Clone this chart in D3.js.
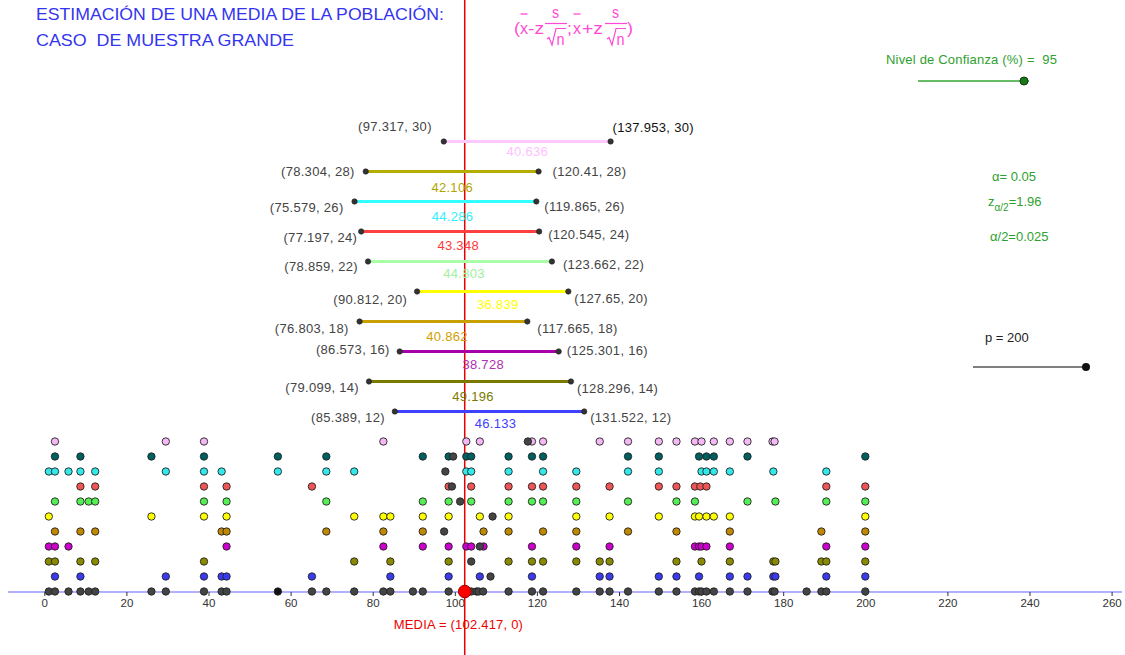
<!DOCTYPE html>
<html><head><meta charset="utf-8">
<script src="https://cdn.jsdelivr.net/npm/d3@7"></script>
<style>
body{margin:0;background:#fff}
svg{display:block}
text{font-family:"Liberation Sans",Arial,Helvetica,sans-serif}
</style>
</head><body>
<svg id="chart" width="1125" height="655"></svg>
<script>
// ---------------- DATA ----------------
const xTicks = [0, 20, 40, 60, 80, 100, 120, 140, 160, 180, 200, 220, 240, 260];
const meanValue = 102.417;

const intervalLevels = [30, 28, 26, 24, 22, 20, 18, 16, 14, 12];
const lowerBounds = [97.317, 78.304, 75.579, 77.197, 78.859, 90.812, 76.803, 86.573, 79.099, 85.389];
const upperBounds = [137.953, 120.41, 119.865, 120.545, 123.662, 127.65, 117.665, 125.301, 128.296, 131.522];
const intervalWidths = [40.636, 42.106, 44.286, 43.348, 44.803, 36.839, 40.862, 38.728, 49.196, 46.133];

const population = [1.1, 2.6, 5.9, 8.8, 10.8, 12.4, 26.1, 29.6, 38.9, 43.2, 44.4, 65.2, 68.7, 75.5, 82.6, 84.3, 89.8, 92.2, 98.5, 102.8, 104, 105.3, 105.8, 106.9, 113.1, 118.8, 121.5, 129.6, 135.3, 137.7, 142.2, 149.7, 154, 158.5, 159.5, 160.1, 161.3, 163.1, 167, 171.3, 177.4, 177.9, 185.7, 189.3, 190.5, 200];
const highlightedPoint = 56.9;

const sample1 = [2.6, 8.8, 29.6, 38.9, 43.2, 44.4, 65.2, 84.3, 98.5, 106.1, 118.8, 135.3, 137.7, 149.7, 154, 159.5, 167, 171.3, 177.6, 178.1, 190.5, 200];
const sample2 = [1.1, 2.6, 8.8, 12.4, 38.9, 75.5, 84.3, 98.5, 113.1, 118.8, 121.5, 129.6, 135.3, 137.7, 154, 160.1, 167, 177.6, 178.1, 189.3, 190.5, 200];
const sample3 = [1.1, 2.6, 5.9, 44.4, 82.6, 92.2, 98.5, 102.8, 104, 107, 118.8, 129.6, 137.7, 158.5, 159.5, 160.1, 161.3, 167, 190.5, 200];
const sample4 = [2.6, 8.8, 12.4, 43.2, 44.4, 68.7, 82.6, 92.2, 107, 113.1, 121.5, 129.6, 142.2, 154, 167, 189.3, 200];
const sample5 = [1.1, 26.1, 38.9, 44.4, 75.5, 82.6, 84.3, 92.2, 98.5, 106.1, 113.1, 129.6, 137.7, 149.7, 158.5, 159.5, 161.3, 163.1, 167, 200];
const sample6 = [2.6, 8.8, 10.8, 12.4, 38.9, 44.4, 68.7, 92.2, 98.5, 104, 113.1, 118.8, 121.5, 129.6, 142.2, 154, 158.5, 171.3, 178.1, 190.5, 200];
const sample7 = [8.8, 12.4, 38.9, 44.4, 65.2, 98.5, 104, 113.1, 118.8, 121.5, 129.6, 137.7, 149.7, 154, 158.5, 159.8, 161.3, 190.5, 200];
const sample8 = [1.1, 2.6, 5.9, 8.8, 12.4, 29.6, 38.9, 43.2, 56.9, 68.7, 75.5, 102.8, 104, 113.1, 121.5, 129.6, 142.2, 149.7, 160.1, 161.3, 163.1, 167, 177.6, 190.5];
const sample9 = [2.6, 8.8, 26.1, 38.9, 56.9, 68.7, 92.2, 98.5, 102.8, 104, 113.1, 118.8, 121.5, 142.2, 149.7, 159.5, 161.3, 163.1, 171.3, 200];
const sample10 = [2.6, 29.6, 38.9, 82.6, 102.8, 106.1, 118.8, 121.5, 135.3, 142.2, 149.7, 154, 158.5, 160.1, 163.1, 167, 171.3, 177.4, 177.9];
// dark points shown inside the sample rows: [row, value]
const strayRows = [10, 9, 8, 7, 6, 5, 4, 3, 2, 1];
const strayValues = [117.8, 99.6, 97.7, 99.3, 101.3, 109.2, 97.4, 106.1, 104, 108.7];

const confidenceLevel = 95;
const alphaValue = 0.05;
const zHalf = 1.96;
const alphaHalf = 0.025;
const pValue = 200;

// ---------------- STYLE / LAYOUT ----------------
const intervalColors = ["#ffc8ff", "#b5ad00", "#33ffff", "#ff4040", "#a8ffa8", "#ffff00", "#c8a000", "#a800a8", "#7a7a00", "#4040ff"];
const widthLabelColors = ["#ffc0ff", "#b0a400", "#30f0ff", "#ff3838", "#a0f0a0", "#ffff00", "#d0a000", "#b030b0", "#7a7a00", "#4040ff"];
const sampleColors = ["#3a3aee", "#8a8a00", "#cc00cc", "#c08800", "#ffff00", "#55ee55", "#ee5555", "#33e8e8", "#006060", "#f4b8f4"];
// label nudges [leftDx, leftDy, rightDx, rightDy, widthDx, widthDy]
const labelNudge = [
  [-12,-15, 2,-14, 0,10], [-11,0,14,0,0,16], [-11,6,8,5,7,15], [-4,6,9,3,8,14], [-10,5,11,3,4,12],
  [-10,8,6,7,5,13], [-11,7,10,7,3.5,15], [-10,-2,8,-1,4,13], [-10,6,6,7,3,15], [-10,6,6,6,6,12]
];

const svg = d3.select("#chart");
const x = d3.scaleLinear().domain([0, 260]).range([44.3, 44.3 + 260 * 4.105]);
const y = d3.scaleLinear().domain([0, 30]).range([591.5, 141.5]);

// axis line
svg.append("line").attr("x1", 8).attr("x2", 1122).attr("y1", y(0) + 0.5).attr("y2", y(0) + 0.5)
  .attr("stroke", "#6464ff").attr("stroke-width", 1.2);

const axis = d3.axisBottom(x).tickValues(xTicks).tickSize(4).tickPadding(3).tickFormat(d3.format("d"));
const gAxis = svg.append("g").attr("transform", `translate(0,${y(0) + 0.5})`).call(axis);
gAxis.select(".domain").remove();
gAxis.selectAll(".tick line").attr("stroke", "#333");
gAxis.selectAll(".tick text").attr("fill", "#333").style("font-size", "11.5px")
  .style("font-family", '"Liberation Sans",Arial,sans-serif');

// title
svg.append("text").attr("x", 36).attr("y", 20).attr("fill", "#3434f0").style("font-size", "17px")
  .attr("textLength", 408).attr("lengthAdjust", "spacingAndGlyphs")
  .text("ESTIMACIÓN DE UNA MEDIA DE LA POBLACIÓN:");
svg.append("text").attr("x", 36).attr("y", 46).attr("fill", "#3434f0").style("font-size", "17px")
  .style("white-space", "pre").attr("textLength", 258).attr("lengthAdjust", "spacingAndGlyphs")
  .text("CASO  DE MUESTRA GRANDE");

// formula
const fc = "#ff4ad6";
const fg = svg.append("g").attr("fill", fc).style("font-size", "17px");
function ft(tx, ty, s, len, size) {
  const t = fg.append("text").attr("x", tx).attr("y", ty).text(s);
  if (len) t.attr("textLength", len).attr("lengthAdjust", "spacingAndGlyphs");
  if (size) t.style("font-size", size);
  return t;
}
function fline(x1, y1, x2, y2, w) {
  fg.append("line").attr("x1", x1).attr("y1", y1).attr("x2", x2).attr("y2", y2)
    .attr("stroke", fc).attr("stroke-width", w || 1.2);
}
function fracPart(cx) {
  ft(cx - 4, 18, "s", 7, "16px");
  fline(cx - 11, 23.5, cx + 11, 23.5, 1.2);
  fg.append("path").attr("d", `M${cx - 9},39 L${cx - 7},37.5 L${cx - 4},45 L${cx},28.5 L${cx + 10},28.5`)
    .attr("fill", "none").attr("stroke", fc).attr("stroke-width", 1.2);
  ft(cx + 0.5, 44.5, "n", 8, "16px");
}
ft(514, 34, "(", 6);
ft(520, 34, "x", 8); fline(520.5, 14, 527.5, 14, 1.3);
ft(528, 34, "-z", 16);
fracPart(556);
ft(567, 34, ";", 5);
ft(573, 34, "x", 8); fline(573.5, 14, 580.5, 14, 1.3);
ft(582, 34, "+z", 21);
fracPart(616);
ft(627, 34, ")", 6);

// mean vertical line
svg.append("line").attr("x1", x(meanValue)).attr("x2", x(meanValue)).attr("y1", 0).attr("y2", 655)
  .attr("stroke", "#e80000").attr("stroke-width", 1.5);

// intervals
const fmt = v => String(v);
intervalLevels.forEach((lev, i) => {
  const yy = y(lev), xl = x(lowerBounds[i]), xr = x(upperBounds[i]);
  const n = labelNudge[i];
  svg.append("line").attr("x1", xl).attr("x2", xr).attr("y1", yy).attr("y2", yy)
    .attr("stroke", intervalColors[i]).attr("stroke-width", 3);
  [xl, xr].forEach(px => svg.append("circle").attr("cx", px).attr("cy", yy).attr("r", 2.7)
    .attr("fill", "#333").attr("stroke", "#222").attr("stroke-width", 0.6));
  svg.append("text").attr("x", xl + n[0]).attr("y", yy + n[1] + 4.6).attr("text-anchor", "end")
    .attr("fill", "#444").style("font-size", "13px").style("letter-spacing", "0.3px")
    .text(`(${fmt(lowerBounds[i])}, ${lev})`);
  svg.append("text").attr("x", xr + n[2]).attr("y", yy + n[3] + 4.6)
    .attr("fill", i === 0 ? "#111" : "#444").style("font-size", "13px").style("letter-spacing", "0.3px")
    .text(`(${fmt(upperBounds[i])}, ${lev})`);
  svg.append("text").attr("x", (xl + xr) / 2 + n[4]).attr("y", yy + n[5] + 4.6).attr("text-anchor", "middle")
    .attr("fill", widthLabelColors[i]).style("font-size", "13px").style("letter-spacing", "0.3px")
    .text(intervalWidths[i].toFixed(3));
});

// dots
const samples = [sample1, sample2, sample3, sample4, sample5, sample6, sample7, sample8, sample9, sample10];
function dot(v, row, fill, r) {
  svg.append("circle").attr("cx", x(v)).attr("cy", y(row)).attr("r", r || 3.7)
    .attr("fill", fill).attr("stroke", "#222").attr("stroke-width", 0.9);
}
population.forEach(v => dot(v, 0, "#444"));
dot(highlightedPoint, 0, "#111");
samples.forEach((arr, k) => arr.forEach(v => dot(v, k + 1, sampleColors[k])));
strayRows.forEach((row, i) => dot(strayValues[i], row, "#444"));

// mean point
svg.append("circle").attr("cx", x(meanValue)).attr("cy", y(0)).attr("r", 6.3)
  .attr("fill", "#ff0000").attr("stroke", "#a00000").attr("stroke-width", 1);
svg.append("text").attr("x", x(meanValue) - 71).attr("y", 629).attr("fill", "#ee0000")
  .style("font-size", "13px").style("letter-spacing", "0.2px").text(`MEDIA = (${meanValue}, 0)`);

// right panel
const green = "#2f9f2f";
svg.append("text").attr("x", 886).attr("y", 63.5).attr("fill", green).style("font-size", "13px")
  .style("white-space", "pre").attr("textLength", 171).attr("lengthAdjust", "spacing")
  .text(`Nivel de Confianza (%) =  ${confidenceLevel}`);
svg.append("line").attr("x1", 918).attr("x2", 1029).attr("y1", 81).attr("y2", 81)
  .attr("stroke", "#66bb66").attr("stroke-width", 2);
svg.append("circle").attr("cx", 1024).attr("cy", 81).attr("r", 4).attr("fill", "#1a7a1a").attr("stroke", "#0b3b0b");

svg.append("text").attr("x", 992).attr("y", 180.5).attr("fill", green).style("font-size", "13px")
  .text(`α= ${alphaValue}`);
const zt = svg.append("text").attr("x", 988).attr("y", 206).attr("fill", green).style("font-size", "13px");
zt.append("tspan").text("z");
zt.append("tspan").attr("dy", 5).style("font-size", "10px").text("α/2");
zt.append("tspan").attr("dy", -5).text(`=${zHalf}`);
svg.append("text").attr("x", 990).attr("y", 240.5).attr("fill", green).style("font-size", "13px")
  .text(`α/2=${alphaHalf}`);

svg.append("text").attr("x", 985).attr("y", 342).attr("fill", "#222").style("font-size", "13px")
  .text(`p = ${pValue}`);
svg.append("line").attr("x1", 973).attr("x2", 1087).attr("y1", 367).attr("y2", 367)
  .attr("stroke", "#555").attr("stroke-width", 1.5);
svg.append("circle").attr("cx", 1086).attr("cy", 367).attr("r", 4).attr("fill", "#111");
</script>
</body></html>
